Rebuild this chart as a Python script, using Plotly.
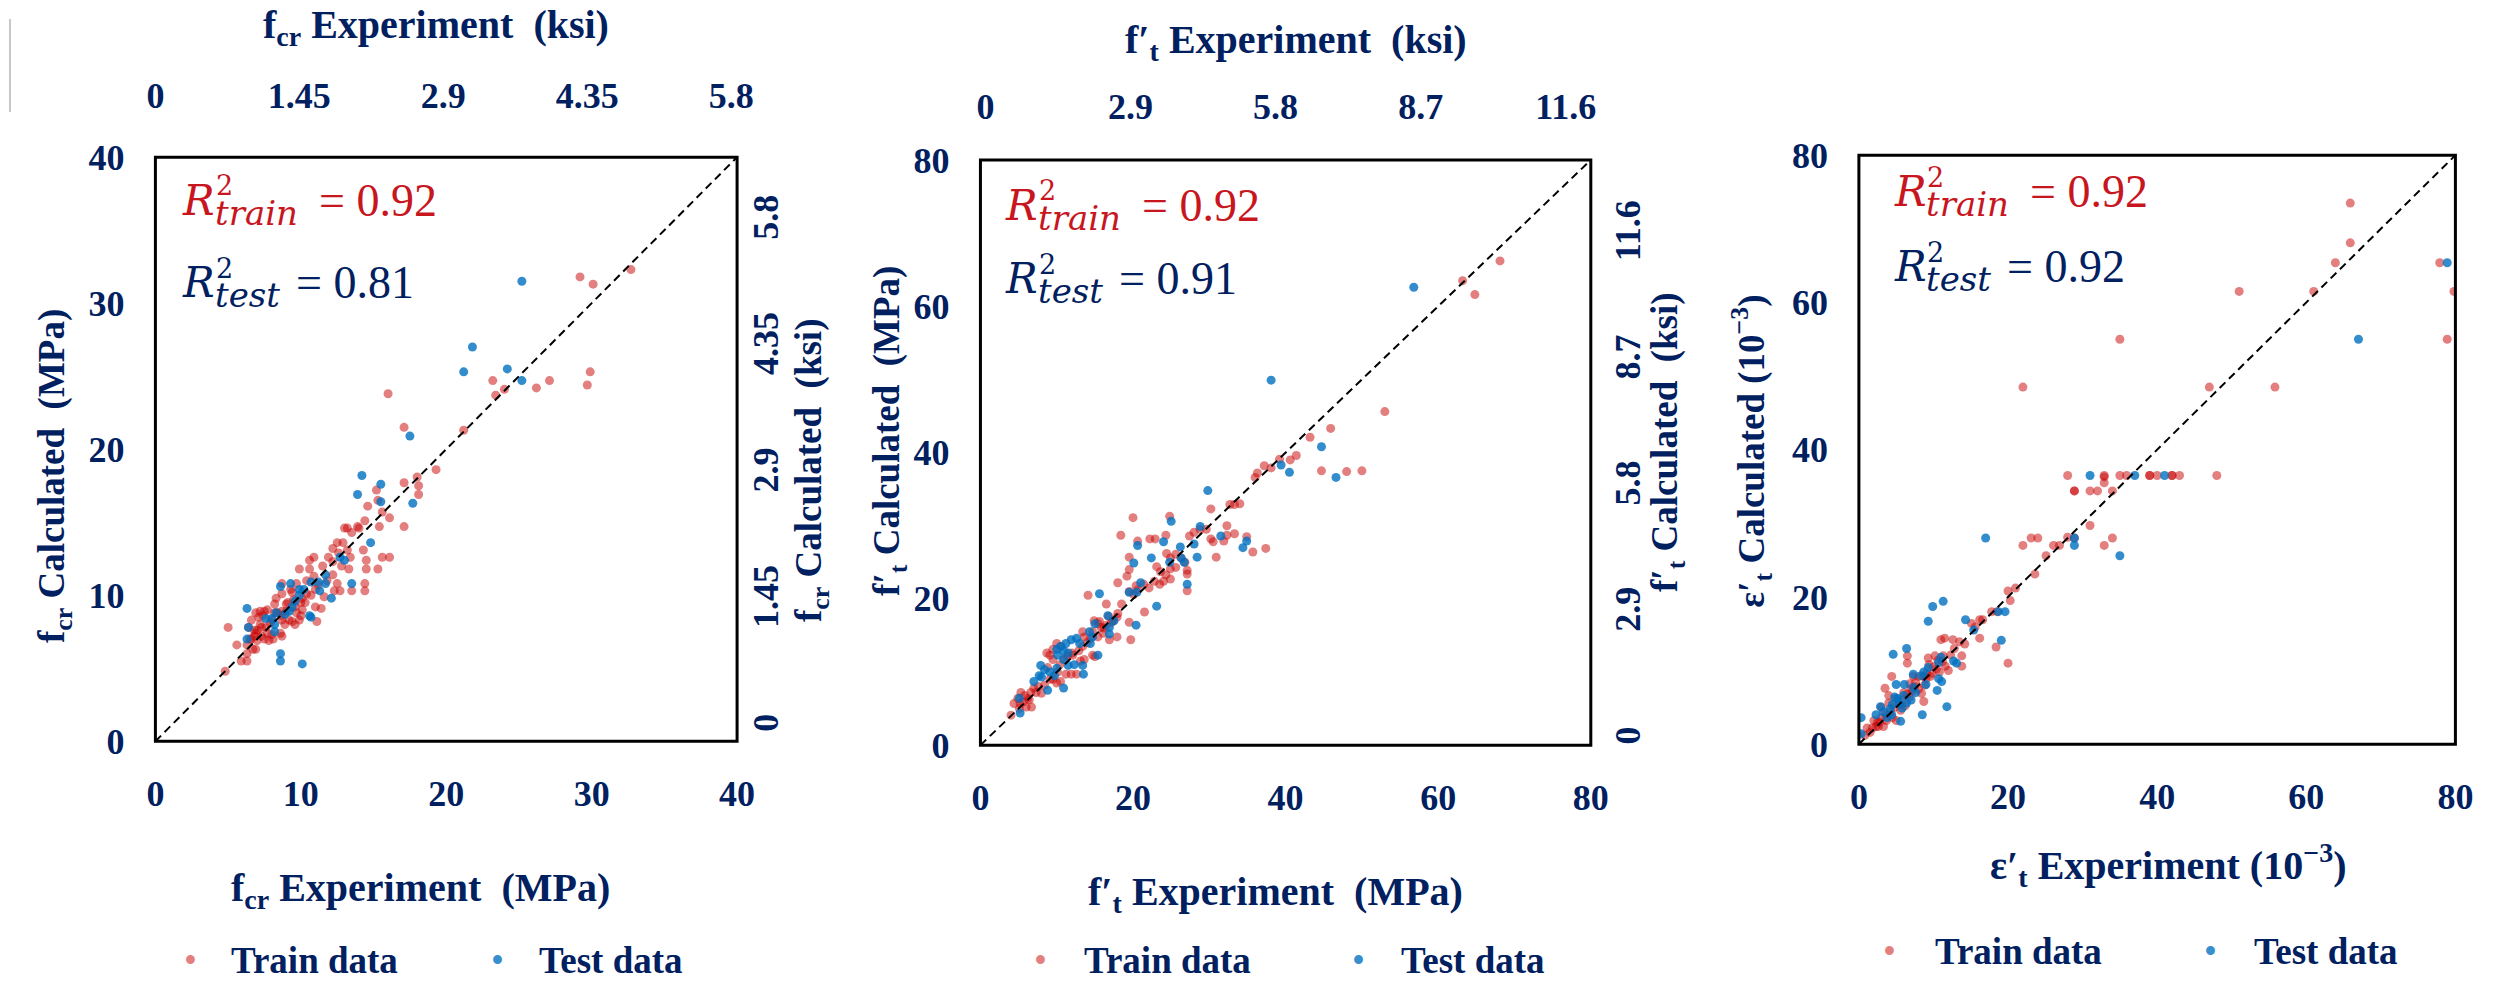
import plotly.graph_objects as go

# ---------------------------------------------------------------- data
# f_cr panel (MPa)
fcr_train_exp = [29.2, 30.1, 32.7, 23.2, 24.0, 23.4, 26.2, 27.1, 29.9, 29.7, 16.0, 21.2, 17.1, 19.3, 17.1, 18.0, 15.2, 18.1, 18.1,
                 15.3, 14.6, 15.6, 16.1, 17.1, 15.4, 14.4, 13.9, 13.2, 13.5, 14.3, 12.5, 12.9, 12.2, 13.2, 15.6, 16.1, 14.5, 14.5,
                 15.3, 13.4, 11.9, 10.9, 10.6, 9.9, 10.6, 11.5, 12.2, 13.3, 10.9, 12.2, 14.4, 12.5, 12.3, 12.7, 13.5, 14.4, 11.6,
                 8.7, 9.7, 10.4, 10.7, 9.4, 9.5, 10.0, 10.1, 8.7, 11.0, 11.4, 9.1, 9.0, 8.2, 7.2, 7.5, 7.7, 6.9, 8.2, 8.7, 9.0, 9.7,
                 10.1, 8.7, 9.2, 9.4, 8.7, 8.9, 9.6, 10.0, 9.9, 11.1, 8.0, 7.6, 7.3, 6.9, 6.8, 7.5, 7.8, 7.3, 6.4, 6.6, 6.6, 7.0, 6.8,
                 6.3, 8.1, 8.0, 8.6, 8.7, 5.0, 5.6, 6.7, 6.9, 6.3, 5.9, 6.3, 4.8, 7.1, 7.4, 8.3, 9.3, 10.4, 11.0, 11.8, 12.8, 13.0,
                 14.0, 12.6, 11.2, 10.3, 9.6, 8.4, 7.9, 7.0, 7.7, 7.2, 6.5]
fcr_train_calc = [31.8, 31.3, 32.3, 24.7, 24.1, 23.7, 24.2, 24.7, 25.3, 24.4, 23.8, 21.3, 21.5, 18.6, 17.7, 18.1, 17.2, 17.5, 16.9,
                  16.5, 16.1, 15.7, 15.3, 14.7, 14.7, 15.1, 14.7, 14.6, 14.3, 13.1, 13.6, 13.6, 13.2, 13.1, 12.6, 12.6, 12.4, 11.8,
                  11.8, 12.6, 12.6, 12.6, 12.4, 11.8, 11.8, 12.0, 12.3, 11.8, 11.3, 11.4, 10.8, 10.8, 10.3, 10.3, 10.3, 10.3, 9.9,
                  10.8, 10.8, 10.1, 10.0, 10.2, 9.7, 9.5, 9.8, 10.1, 9.2, 9.1, 9.5, 9.4, 9.4, 8.9, 8.9, 9.0, 8.8, 8.8, 8.9, 8.9, 8.8,
                  9.0, 8.3, 8.3, 8.2, 8.6, 8.0, 8.0, 8.6, 8.3, 8.2, 8.3, 7.8, 7.8, 7.4, 7.6, 7.0, 6.9, 7.2, 7.8, 8.3, 7.0, 6.9, 7.2,
                  6.6, 7.0, 7.3, 7.4, 7.2, 7.8, 6.6, 6.3, 6.3, 6.0, 5.5, 5.5, 4.8, 8.5, 8.6, 9.8, 10.4, 11.0, 10.4, 11.0, 12.0, 14.6,
                  14.6, 12.9, 10.7, 9.5, 9.2, 8.8, 8.1, 7.6, 7.4, 8.0, 7.0]
fcr_test_exp = [25.2, 21.8, 21.2, 24.2, 25.2, 17.5, 14.2, 15.5, 13.9, 15.5, 17.7, 14.8, 12.7, 13.0, 11.7, 13.5, 10.7, 11.2, 11.7,
                11.3, 12.1, 9.3, 8.6, 9.9, 10.2, 9.9, 6.3, 9.2, 9.4, 8.3, 7.6, 8.0, 10.6, 10.7, 8.2, 8.2, 8.6, 8.6, 10.1, 6.3, 6.4,
                8.9, 9.6]
fcr_test_calc = [31.5, 27.0, 25.3, 25.5, 24.7, 20.9, 18.2, 17.6, 16.9, 16.4, 16.3, 13.6, 12.6, 12.4, 11.4, 10.8, 10.9, 10.9, 10.8,
                 10.3, 9.8, 10.8, 10.6, 10.4, 10.4, 10.0, 9.1, 8.9, 9.2, 8.8, 8.4, 8.4, 8.6, 8.5, 8.0, 7.5, 6.0, 5.5, 5.3, 7.0, 7.8,
                 8.7, 9.6]

# f't panel (MPa)
ft_train_exp = [68.1, 63.2, 64.8, 53.0, 45.9, 43.2, 41.4, 40.6, 39.2, 37.2, 38.1, 44.7, 48.0, 50.0, 36.3, 36.0, 30.2, 32.7, 33.3,
                34.0, 32.3, 20.0, 24.8, 18.4, 20.6, 22.2, 22.9, 24.3, 19.5, 27.4, 28.0, 28.8, 29.6, 30.2, 30.5, 31.9, 32.3, 33.3,
                34.9, 35.7, 37.4, 30.9, 24.4, 24.9, 25.6, 26.3, 26.8, 23.1, 23.6, 24.3, 24.9, 25.6, 27.1, 27.1, 22.8, 23.5, 24.0,
                24.9, 27.1, 21.4, 22.1, 20.4, 19.5, 20.1, 20.6, 18.0, 19.2, 19.5, 14.1, 18.5, 18.0, 16.5, 21.5, 17.4, 17.9, 19.5,
                15.4, 14.9, 15.8, 16.5, 14.7, 15.4, 16.1, 16.9, 17.9, 19.7, 14.4, 13.6, 13.4, 14.7, 15.0, 13.4, 12.9, 12.1, 11.4,
                10.6, 10.0, 9.5, 9.1, 9.5, 8.7, 13.1, 13.6, 11.2, 11.9, 12.6, 8.8, 10.1, 9.5, 10.5, 10.0, 8.0, 7.3, 6.6, 5.8, 6.2,
                5.3, 4.9, 4.4, 5.2, 5.6, 6.7, 4.0, 6.0, 5.1, 8.4, 9.1, 15.6, 16.2, 14.0, 12.0, 16.8, 17.2, 11.0, 10.4, 7.6, 7.0, 6.4]
ft_train_calc = [66.2, 63.5, 61.6, 45.6, 43.3, 42.1, 39.6, 39.0, 39.1, 38.2, 37.9, 37.5, 37.4, 37.5, 37.2, 36.6, 32.3, 32.9, 32.9,
                 33.0, 30.0, 31.1, 31.3, 28.7, 27.9, 28.2, 28.2, 28.7, 25.7, 28.6, 29.1, 29.5, 29.5, 28.2, 27.8, 27.9, 28.7, 28.9,
                 28.5, 26.4, 26.9, 25.7, 26.2, 25.6, 26.1, 25.6, 25.0, 24.4, 23.7, 23.3, 24.1, 24.3, 23.9, 23.4, 22.4, 22.0, 22.4,
                 22.7, 21.1, 22.0, 21.5, 21.8, 21.0, 20.6, 21.2, 22.2, 23.1, 24.0, 20.5, 19.3, 18.0, 19.3, 18.2, 17.0, 17.5, 16.8,
                 16.6, 17.0, 16.1, 16.4, 15.5, 14.8, 15.3, 14.4, 14.8, 14.4, 14.6, 14.8, 15.5, 12.3, 12.1, 13.5, 12.9, 12.3, 12.2,
                 13.5, 13.9, 13.1, 12.3, 11.7, 12.6, 11.5, 11.7, 9.7, 9.7, 9.7, 10.6, 10.0, 9.0, 8.7, 8.5, 7.1, 7.2, 7.2, 6.8, 6.4,
                 7.2, 6.4, 5.7, 5.7, 5.9, 5.2, 4.1, 5.2, 5.0, 8.2, 9.0, 16.9, 16.0, 14.0, 12.6, 17.6, 16.8, 11.8, 11.0, 8.0, 7.8, 6.2]
ft_test_exp = [56.8, 38.1, 44.7, 39.4, 40.5, 46.6, 29.8, 25.0, 20.6, 24.0, 20.1, 22.4, 26.2, 28.8, 28.0, 31.5, 34.4, 34.9, 28.4,
               24.8, 26.3, 26.7, 27.1, 19.5, 20.5, 21.0, 15.6, 23.1, 16.7, 20.4, 15.0, 16.9, 17.5, 16.9, 14.3, 14.7, 14.4, 12.6,
               11.9, 13.0, 11.2, 10.5, 10.0, 15.4, 10.9, 11.5, 10.1, 10.9, 12.3, 13.4, 11.5, 13.5, 7.9, 8.4, 7.7, 8.0, 9.1, 9.7,
               10.0, 10.9, 8.8, 7.0, 5.1, 5.2]
ft_test_calc = [62.6, 49.9, 40.8, 38.3, 37.3, 36.6, 34.8, 30.6, 27.3, 27.8, 24.9, 25.6, 27.1, 29.9, 27.5, 28.6, 27.0, 27.9, 25.7,
                25.0, 25.6, 25.0, 22.0, 20.9, 20.9, 22.2, 20.7, 19.0, 17.7, 16.4, 16.6, 16.1, 17.0, 15.2, 15.5, 14.8, 13.9, 14.6,
                14.4, 13.9, 13.9, 13.5, 13.1, 12.3, 12.9, 12.6, 12.3, 11.7, 11.0, 10.9, 10.9, 9.7, 10.9, 10.3, 9.5, 9.3, 10.0, 9.5,
                10.5, 7.8, 7.5, 8.7, 6.4, 4.4]

# eps't panel (x10^-3)
et_train_exp = [65.9, 65.9, 63.9, 77.9, 61.0, 51.0, 79.8, 35.0, 78.9, 22.0, 47.0, 55.8, 28.0, 32.9, 32.9, 35.0, 35.9, 39.0, 39.0,
                40.0, 42.0, 42.0, 43.0, 48.0, 32.9, 28.9, 28.9, 31.0, 32.0, 34.0, 31.0, 22.0, 23.1, 24.0, 28.0, 28.9, 26.1, 26.9,
                32.9, 34.0, 25.1, 23.6, 21.0, 20.0, 20.3, 17.8, 18.5, 16.2, 16.6, 15.1, 15.6, 16.2, 18.4, 20.0, 11.0, 11.5, 12.6,
                13.5, 13.8, 6.5, 6.5, 9.3, 10.2, 11.3, 12.3, 13.8, 11.6, 12.0, 10.8, 9.8, 9.1, 8.7, 4.4, 3.5, 4.0, 5.0, 7.3, 8.0,
                9.0, 9.4, 10.0, 8.4, 8.7, 7.0, 7.5, 8.0, 6.8, 6.0, 7.2, 6.5, 5.5, 5.8, 4.8, 4.2, 3.6, 3.0, 2.5, 1.1, 1.8, 2.3, 2.0,
                2.8, 3.7, 4.5, 5.0, 3.3, 0.8, 1.5, 6.2, 7.6, 8.8, 9.6, 10.4, 11.2, 12.8, 10.6, 5.6, 4.0, 6.8, 3.0, 2.6, 14.2]
et_train_calc = [73.5, 68.1, 65.4, 65.4, 61.5, 61.5, 61.5, 55.0, 55.0, 48.5, 48.5, 48.5, 36.5, 36.5, 36.3, 36.5, 36.5, 36.5, 36.5,
                 36.5, 36.5, 36.5, 36.5, 36.5, 35.5, 34.4, 34.4, 34.4, 34.4, 34.4, 29.7, 27.0, 28.0, 28.0, 28.1, 28.0, 27.0, 27.0,
                 27.0, 28.0, 25.6, 23.1, 21.2, 20.8, 19.5, 18.0, 18.0, 16.9, 16.9, 16.4, 15.9, 14.4, 13.2, 11.0, 14.2, 14.4, 14.2,
                 13.9, 12.0, 12.0, 11.0, 11.7, 12.0, 12.0, 12.1, 10.6, 10.6, 10.0, 9.8, 9.6, 9.6, 9.2, 9.2, 7.6, 6.6, 6.2, 9.2, 9.2,
                 8.9, 10.8, 10.5, 6.9, 5.8, 7.5, 7.8, 7.5, 6.4, 7.0, 7.2, 6.8, 5.4, 6.0, 5.0, 4.4, 4.0, 3.6, 3.0, 2.2, 2.2, 2.4, 3.2,
                 3.0, 3.2, 3.6, 3.2, 2.4, 1.2, 1.6, 5.2, 8.4, 8.0, 9.2, 10.2, 11.2, 13.0, 11.4, 4.6, 5.6, 8.2, 5.0, 2.4, 13.6]
et_test_exp = [78.9, 67.0, 31.0, 37.0, 41.0, 28.9, 28.9, 35.0, 17.0, 18.7, 19.6, 14.3, 15.4, 9.9, 11.3, 9.3, 19.1, 6.4, 4.6, 11.0,
               12.7, 13.1, 10.7, 9.3, 8.7, 7.3, 10.7, 11.1, 10.5, 11.8, 8.4, 9.0, 7.3, 5.0, 6.1, 7.6, 8.5, 5.4, 5.8, 6.4, 4.5, 5.2,
               4.8, 2.9, 3.3, 4.2, 2.3, 4.4, 5.6, 0.3, 0.3, 3.8, 6.0, 7.0]
et_test_calc = [65.4, 55.0, 36.5, 36.5, 36.5, 28.0, 27.0, 25.6, 28.0, 18.0, 18.0, 16.9, 15.5, 18.7, 19.4, 16.7, 14.1, 13.0, 12.2,
                11.8, 11.3, 11.0, 11.1, 10.4, 9.8, 9.5, 8.9, 8.5, 7.3, 5.1, 9.3, 8.1, 7.7, 8.1, 8.1, 7.0, 4.0, 5.6, 4.9, 5.6, 5.4,
                6.2, 6.4, 5.1, 4.4, 4.8, 4.0, 4.0, 3.1, 3.6, 1.4, 3.6, 6.6, 6.0]

# axis ticks
mpa40_ticks = [0, 10, 20, 30, 40]
mpa80_ticks = [0, 20, 40, 60, 80]
ksi_ticks_1 = [0, 1.45, 2.9, 4.35, 5.8]
ksi_ticks_2 = [0, 2.9, 5.8, 8.7, 11.6]
ksi_text_1 = ["0", "1.45", "2.9", "4.35", "5.8"]
ksi_text_2 = ["0", "2.9", "5.8", "8.7", "11.6"]

r2_train = ["0.92", "0.92", "0.92"]
r2_test = ["0.81", "0.91", "0.92"]
legend_names = ["Train data", "Test data"]

# ---------------------------------------------------------------- style
W, H = 2511, 981
NAVY = "#002060"
RED_TXT = "#C8161E"
TRAIN_CLR = "rgba(200,0,0,0.5)"
TEST_CLR = "rgba(0,112,192,0.8)"
SERIF = "Liberation Serif"
MATH = "DejaVu Serif"


def px(x):
    return x / W


def py(y):
    return 1 - y / H


tick_font = dict(family=SERIF, size=36, color=NAVY, weight="bold")

fig = go.Figure()

# plot frames in pixels: left, right, top, bottom
frames = [(148, 736, 144, 753), (982, 1599, 147, 757), (1870, 2473, 142, 756)]
limits = [40, 80, 80]
series = [
    (fcr_train_exp, fcr_train_calc, fcr_test_exp, fcr_test_calc),
    (ft_train_exp, ft_train_calc, ft_test_exp, ft_test_calc),
    (et_train_exp, et_train_calc, et_test_exp, et_test_calc),
]

for i, (tr_x, tr_y, te_x, te_y) in enumerate(series):
    xa = "x" if i == 0 else f"x{i + 1}"
    ya = "y" if i == 0 else f"y{i + 1}"
    fig.add_trace(go.Scatter(
        x=tr_x, y=tr_y, mode="markers", name=legend_names[0], xaxis=xa, yaxis=ya,
        marker=dict(size=9, color=TRAIN_CLR, line=dict(width=0)), showlegend=False))
    fig.add_trace(go.Scatter(
        x=te_x, y=te_y, mode="markers", name=legend_names[1], xaxis=xa, yaxis=ya,
        marker=dict(size=9, color=TEST_CLR, line=dict(width=0)), showlegend=False))

# placeholder traces so the ksi axes get their own subplots
for xa, ya in [("x4", "y"), ("x", "y4"), ("x5", "y2"), ("x2", "y5")]:
    fig.add_trace(go.Scatter(x=[None], y=[None], xaxis=xa, yaxis=ya, showlegend=False,
                             hoverinfo="skip", mode="markers"))

axis_common = dict(showgrid=False, zeroline=False, showline=False, ticks="",
                   tickfont=tick_font, fixedrange=True)

layout_axes = {}
tick_sets = [mpa40_ticks, mpa80_ticks, mpa80_ticks]
for i, (l, r, t, b) in enumerate(frames):
    k = "" if i == 0 else str(i + 1)
    layout_axes[f"xaxis{k}"] = dict(axis_common, domain=[px(l), px(r)], range=[0, limits[i]],
                                    anchor=f"y{k}", tickvals=tick_sets[i], ticklabelstandoff=28)
    layout_axes[f"yaxis{k}"] = dict(axis_common, domain=[py(b), py(t)], range=[0, limits[i]],
                                    anchor=f"x{k}", tickvals=tick_sets[i], ticklabelstandoff=30)

# secondary ksi scales (top and right) for the first two panels
layout_axes["xaxis4"] = dict(axis_common, overlaying="x", side="top", anchor="y",
                             range=[0, 5.86], tickvals=ksi_ticks_1, ticktext=ksi_text_1,
                             ticklabelstandoff=41)
layout_axes["yaxis4"] = dict(axis_common, overlaying="y", side="right", anchor="x",
                             range=[-0.15, 6.55], tickvals=ksi_ticks_1, ticktext=ksi_text_1,
                             tickangle=-90, ticklabelstandoff=4)
layout_axes["xaxis5"] = dict(axis_common, overlaying="x2", side="top", anchor="y2",
                             range=[-0.1, 12.1], tickvals=ksi_ticks_2, ticktext=ksi_text_2,
                             ticklabelstandoff=33)
layout_axes["yaxis5"] = dict(axis_common, overlaying="y2", side="right", anchor="x2",
                             range=[-0.1, 13.35], tickvals=ksi_ticks_2, ticktext=ksi_text_2,
                             tickangle=-90, ticklabelstandoff=12)

# frames and 1:1 reference lines
shapes = []
for i in range(3):
    k = "" if i == 0 else str(i + 1)
    shapes.append(dict(type="rect", xref=f"x{k} domain", yref=f"y{k} domain",
                       x0=0, x1=1, y0=0, y1=1, line=dict(color="black", width=3),
                       fillcolor="rgba(0,0,0,0)", layer="above"))
    shapes.append(dict(type="line", xref=f"x{k}", yref=f"y{k}", x0=0, y0=0,
                       x1=limits[i], y1=limits[i],
                       line=dict(color="black", width=2, dash="8px,5px"), layer="above"))
# thin grey edge at the top-left corner
shapes.append(dict(type="line", xref="paper", yref="paper", x0=px(1), x1=px(1),
                   y0=py(0), y1=py(97), line=dict(color="#c8c8c8", width=2)))

annotations = []


def title(text, x, y, angle=0, size=40):
    annotations.append(dict(text=f"<b>{text}</b>", x=px(x), y=py(y), xref="paper", yref="paper",
                            showarrow=False, xanchor="center", yanchor="middle", textangle=angle,
                            font=dict(family=SERIF, size=size, color=NAVY)))


GAP = "\u2002"
title(f"f<sub>cr</sub> Experiment{GAP}(ksi)", 432, 8)
title(f"f<sub>cr</sub> Experiment{GAP}(MPa)", 416, 908)
title(f"f<sub>cr</sub> Calculated{GAP}(MPa)", 46, 477, -90, 37)
title(f"f<sub>cr</sub> Calculated{GAP}(ksi)", 812, 470, -90, 37)
title(f"f\u2032<sub>t</sub> Experiment{GAP}(ksi)", 1301, 24)
title(f"f\u2032<sub>t</sub> Experiment{GAP}(MPa)", 1280, 912)
title(f"f\u2032<sub>t</sub> Calculated{GAP}(MPa)", 890, 429, -90, 37)
title(f"f\u2032<sub>t</sub> Calculated{GAP}(ksi)", 1676, 441, -90, 37)
title("\u03b5\u2032<sub>t</sub> Calculated (10<sup>\u22123</sup>)", 1761, 451, -90, 37)
title("\u03b5\u2032<sub>t</sub> Experiment (10<sup>\u22123</sup>)", 2182, 882)


def r2(left, cy, sub, value, color, eq_off):
    parts = [
        ("<i>R</i>", left, cy, 42, MATH),
        ("2", left + 34, cy - 15, 27, MATH),
        (f"<i>{sub}</i>", left + 33, cy + 13, 34, MATH),
        (f"= {value}", left + eq_off, cy, 46, SERIF),
    ]
    for text, x, y, size, fam in parts:
        annotations.append(dict(text=text, x=px(x), y=py(y), xref="paper", yref="paper",
                                showarrow=False, xanchor="left", yanchor="middle",
                                font=dict(family=fam, size=size, color=color)))


r2_pos = [(173, 189, 275), (1005, 194, 271), (1903, 180, 258)]
for i, (left, cy_tr, cy_te) in enumerate(r2_pos):
    r2(left, cy_tr, "train", r2_train[i], RED_TXT, 138)
    r2(left, cy_te, "test", r2_test[i], NAVY, 115)

# per-panel keys: bullet centre x for each entry, text start x, row anchor y
keys = [((183, 222), (494, 534), 981), ((1043, 1085), (1364, 1405), 981), ((1901, 1945), (2225, 2267), 972)]
for (tr_m, tr_t), (te_m, te_t), ky in keys:
    for (mx, tx), name, clr in [((tr_m, tr_t), legend_names[0], TRAIN_CLR),
                                ((te_m, te_t), legend_names[1], TEST_CLR)]:
        annotations.append(dict(text="\u2022", x=px(mx), y=py(ky), xref="paper", yref="paper",
                                showarrow=False, xanchor="center", yanchor="middle",
                                font=dict(family=SERIF, size=37, color=clr)))
        annotations.append(dict(text=f"<b>{name}</b>", x=px(tx), y=py(ky), xref="paper", yref="paper",
                                showarrow=False, xanchor="left", yanchor="middle",
                                font=dict(family=SERIF, size=37, color=NAVY)))

fig.update_layout(
    width=W, height=H, margin=dict(l=0, r=0, t=0, b=0),
    paper_bgcolor="white", plot_bgcolor="white",
    showlegend=False, shapes=shapes, annotations=annotations,
    **layout_axes,
)

fig.write_html("out.html")
